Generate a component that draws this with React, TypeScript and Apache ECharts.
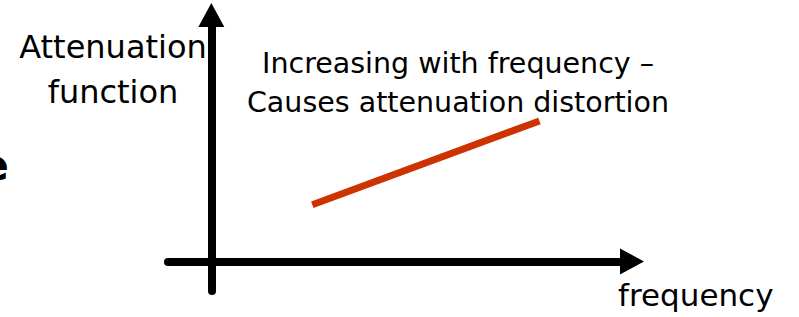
import React, { useEffect, useRef } from "react";
import * as echarts from "echarts";

const frequency = [24, 78];
const attenuation = [23, 57];
const xRange = [-10.3, 100];
const yRange = [-12, 100];
const yAxisLabel = ["Attenuation", "function"];
const noteLines = ["Increasing with frequency –", "Causes attenuation distortion"];
const xAxisLabel = "frequency";
const cutOffText = "e";

export default function App() {
  const ref = useRef<HTMLDivElement>(null);
  useEffect(() => {
    if (!ref.current) return;
    const chart = echarts.init(ref.current, undefined, { renderer: "svg" });
    const font = "DejaVu Sans";
    const axisCommon = {
      type: "value" as const,
      splitLine: { show: false },
      axisTick: { show: false },
      axisLabel: { show: false },
      axisLine: {
        show: true,
        onZero: true,
        symbol: ["none", "triangle"],
        symbolSize: [26, 24],
        lineStyle: { color: "#000", width: 8 },
      },
    };
    chart.setOption({
      animation: false,
      backgroundColor: "#fff",
      grid: { left: 168, right: 167, top: 15, bottom: 26, containLabel: false },
      xAxis: { ...axisCommon, min: xRange[0], max: xRange[1] },
      yAxis: { ...axisCommon, min: yRange[0], max: yRange[1] },
      series: [
        {
          type: "line",
          data: frequency.map((f, i) => [f, attenuation[i]]),
          symbol: "none",
          lineStyle: { color: "#CC3300", width: 7, cap: "butt" },
          z: 5,
        },
      ],
      graphic: [
        { type: "text", x: 113, y: 47, style: { text: yAxisLabel[0], fontFamily: font, fontSize: 32, fill: "#000", align: "center", verticalAlign: "middle" } },
        { type: "text", x: 113, y: 92, style: { text: yAxisLabel[1], fontFamily: font, fontSize: 32, fill: "#000", align: "center", verticalAlign: "middle" } },
        { type: "text", x: 458, y: 63, style: { text: noteLines[0], fontFamily: font, fontSize: 28.5, fill: "#000", align: "center", verticalAlign: "middle" } },
        { type: "text", x: 458, y: 102, style: { text: noteLines[1], fontFamily: font, fontSize: 28.5, fill: "#000", align: "center", verticalAlign: "middle" } },
        { type: "text", x: 618, y: 295, style: { text: xAxisLabel, fontFamily: font, fontSize: 31, fill: "#000", align: "left", verticalAlign: "middle" } },
        { type: "text", x: 9, y: 165, style: { text: cutOffText, fontFamily: font, fontSize: 43, fontWeight: "bold", fill: "#000", align: "right", verticalAlign: "middle" } },
      ],
    });
    return () => chart.dispose();
  }, []);
  return <div ref={ref} style={{ position: "fixed", left: 0, top: 0, width: 799, height: 317 }} />;
}
